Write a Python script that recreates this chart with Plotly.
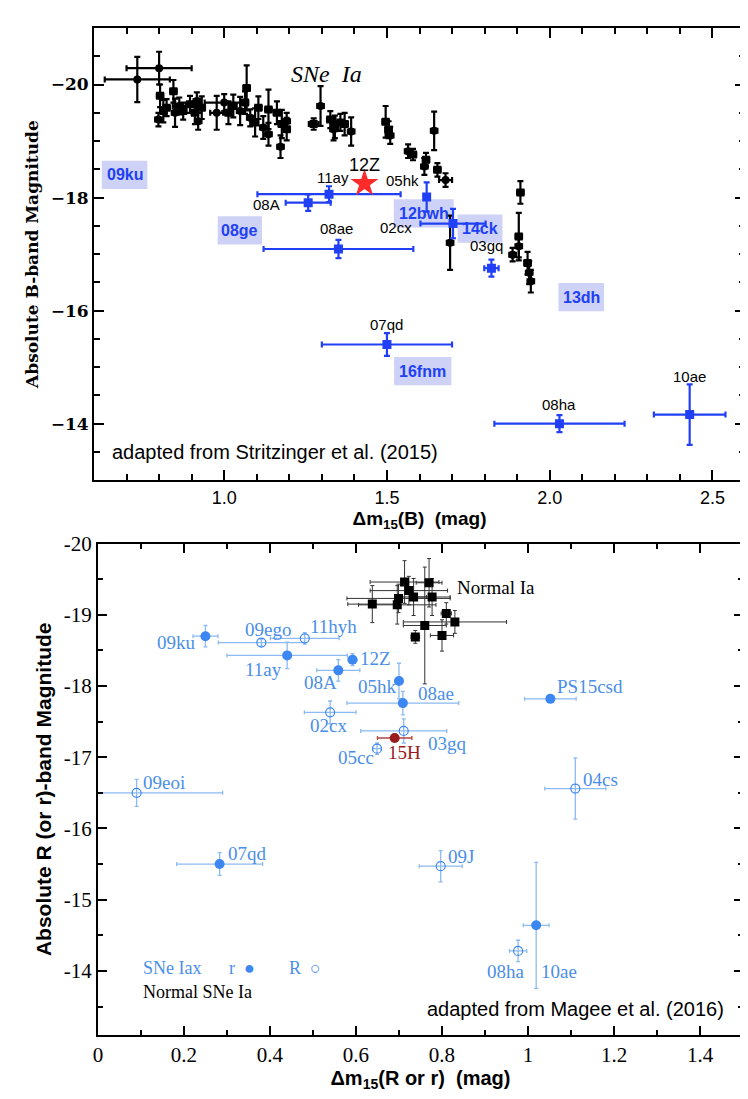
import plotly.graph_objects as go

# ---------------- top panel: Stritzinger et al. (2015), B band ----------------
ia_x = [0.733, 0.800, 0.803, 0.813, 0.798, 0.823, 0.844, 0.849, 0.874, 0.895,
        0.910, 0.920, 0.931, 0.916, 0.862, 0.977, 1.013, 1.028, 1.049, 1.069,
        1.064, 1.080, 1.105, 1.095, 1.120, 1.136, 1.136, 1.162, 1.177, 1.173,
        1.192, 1.192, 1.000, 1.275, 1.296, 1.326, 1.336, 1.357, 1.340, 1.390,
        1.370, 1.496, 1.510, 1.505, 1.565, 1.580, 1.645, 1.620, 1.615, 1.655,
        1.680, 1.694, 1.910, 1.905, 1.905, 1.886, 1.932, 1.937, 1.942]
ia_y = [-20.09, -20.29, -19.80, -19.53, -19.38, -19.59, -19.88, -19.50, -19.53, -19.65,
        -19.50, -19.35, -19.59, -19.71, -19.62, -19.50, -19.50, -19.62, -19.53, -19.94,
        -19.68, -19.41, -19.59, -19.33, -19.24, -19.56, -19.12, -19.50, -19.30, -18.90,
        -19.21, -19.35, -19.68, -19.30, -19.62, -19.38, -19.21, -19.33, -19.25, -19.17,
        -19.30, -19.34, -19.10, -19.20, -18.82, -18.76, -19.18, -18.67, -18.55, -18.49,
        -18.31, -17.20, -18.09, -17.31, -17.14, -16.99, -16.84, -16.67, -16.52]
ia_xerr = [0.10, 0.10, 0.01, 0.01, 0.01, 0.01, 0.01, 0.01, 0.01, 0.01,
           0.01, 0.01, 0.01, 0.01, 0.02, 0.02, 0.01, 0.01, 0.01, 0.01,
           0.01, 0.01, 0.01, 0.01, 0.01, 0.01, 0.01, 0.01, 0.01, 0.01,
           0.01, 0.01, 0.06, 0.015, 0.01, 0.01, 0.01, 0.01, 0.01, 0.01,
           0.01, 0.01, 0.01, 0.01, 0.01, 0.01, 0.01, 0.01, 0.01, 0.01,
           0.02, 0.01, 0.01, 0.01, 0.01, 0.01, 0.01, 0.01, 0.01]
ia_yerr = [0.40, 0.29, 0.20, 0.20, 0.12, 0.15, 0.20, 0.25, 0.15, 0.15,
           0.20, 0.15, 0.20, 0.15, 0.15, 0.30, 0.20, 0.20, 0.25, 0.40,
           0.20, 0.15, 0.20, 0.25, 0.20, 0.35, 0.20, 0.20, 0.25, 0.20,
           0.20, 0.15, 0.15, 0.10, 0.35, 0.15, 0.20, 0.15, 0.20, 0.25,
           0.20, 0.28, 0.15, 0.15, 0.12, 0.10, 0.34, 0.12, 0.15, 0.12,
           0.12, 0.48, 0.20, 0.42, 0.20, 0.12, 0.20, 0.20, 0.20]
ia_sym = ["circle", "circle", "square", "square", "circle", "square", "square", "circle", "square", "square",
          "square", "circle", "square", "circle", "circle", "circle", "square", "square", "circle", "square",
          "square", "circle", "square", "square", "circle", "square", "circle", "square", "square", "circle",
          "square", "circle", "circle", "square", "circle", "square", "circle", "square", "square", "circle",
          "square", "square", "circle", "square", "circle", "square", "circle", "square", "circle", "square",
          "circle", "circle", "square", "square", "circle", "circle", "square", "circle", "circle"]

iax_b_names = ["11ay", "08A", "08ae", "05hk", "02cx", "03gq", "07qd", "08ha", "10ae"]
iax_b_x = [1.322, 1.258, 1.351, 1.622, 1.703, 1.821, 1.50, 2.03, 2.43]
iax_b_y = [-18.06, -17.91, -17.09, -18.01, -17.54, -16.75, -15.40, -14.00, -14.16]
iax_b_xerr = [0.22, 0.069, 0.23, 0.0, 0.10, 0.022, 0.20, 0.20, 0.11]
iax_b_yerr = [0.14, 0.145, 0.16, 0.26, 0.26, 0.15, 0.20, 0.15, 0.535]
iax_b_lab_x = [1.335, 1.13, 1.346, 1.548, 1.528, 1.806, 1.50, 2.03, 2.43]
iax_b_lab_y = [-18.36, -17.87, -17.46, -18.30, -17.47, -17.15, -15.75, -14.34, -14.84]

sn12z_x = [1.431]
sn12z_y = [-18.25]

boxed_names = ["09ku", "08ge", "12bwh", "14ck", "13dh", "16fnm"]
boxed_x = [0.694, 1.048, 1.613, 1.786, 2.097, 1.61]
boxed_y = [-18.40, -17.42, -17.72, -17.45, -16.24, -14.93]

# ---------------- bottom panel: Magee et al. (2016), R / r band ----------------
r_names = ["09ku", "11ay", "12Z", "08A", "05hk", "08ae", "07qd", "10ae", "PS15csd"]
r_x = [0.25, 0.44, 0.592, 0.559, 0.70, 0.709, 0.283, 1.019, 1.052]
r_y = [-18.70, -18.43, -18.37, -18.22, -18.07, -17.76, -15.50, -14.64, -17.82]
r_xerr = [0.029, 0.14, 0.01, 0.05, 0.005, 0.13, 0.10, 0.03, 0.06]
r_yerr = [0.15, 0.185, 0.085, 0.15, 0.25, 0.165, 0.16, 0.885, 0.02]

bigR_names = ["09ego", "11hyh", "02cx", "03gq", "05cc", "09eoi", "04cs", "09J", "08ha"]
bigR_x = [0.38, 0.481, 0.54, 0.711, 0.649, 0.09, 1.11, 0.797, 0.977]
bigR_y = [-18.61, -18.67, -17.63, -17.37, -17.12, -16.50, -16.56, -15.47, -14.28]
bigR_xerr = [0.10, 0.08, 0.06, 0.10, 0.01, 0.20, 0.071, 0.05, 0.02]
bigR_yerr = [0.05, 0.08, 0.16, 0.17, 0.08, 0.19, 0.43, 0.22, 0.15]

sn15h_x = [0.69]
sn15h_y = [-17.27]
sn15h_xerr = [0.04]
sn15h_yerr = [0.05]

norm_x = [0.713, 0.723, 0.699, 0.696, 0.734, 0.638, 0.770, 0.777, 0.810, 0.830, 0.760, 0.738, 0.800]
norm_y = [-19.46, -19.34, -19.23, -19.14, -19.25, -19.15, -19.45, -19.25, -19.02, -18.90, -18.85, -18.69, -18.71]
norm_xerr = [0.08, 0.09, 0.12, 0.09, 0.03, 0.057, 0.03, 0.042, 0.012, 0.12, 0.05, 0.01, 0.027]
norm_yerr = [0.30, 0.20, 0.20, 0.27, 0.26, 0.26, 0.34, 0.26, 0.15, 0.16, 0.82, 0.09, 0.22]

# label placement in the bottom panel: (text, x, y, anchor)
rlabels = [
    ("09ku", 0.233, -18.61, "right"), ("09ego", 0.395, -18.79, "center"),
    ("11hyh", 0.548, -18.84, "center"), ("11ay", 0.385, -18.23, "center"),
    ("12Z", 0.604, -18.39, "left"), ("08A", 0.518, -18.05, "center"),
    ("05hk", 0.650, -17.99, "center"), ("08ae", 0.740, -17.90, "left"),
    ("02cx", 0.535, -17.44, "center"), ("03gq", 0.764, -17.20, "left"),
    ("05cc", 0.600, -17.00, "center"), ("09eoi", 0.100, -16.64, "left"),
    ("04cs", 1.123, -16.69, "left"), ("PS15csd", 1.063, -17.99, "left"),
    ("07qd", 0.298, -15.65, "left"), ("09J", 0.810, -15.61, "left"),
    ("08ha", 0.997, -13.99, "right"), ("10ae", 1.026, -13.99, "left"),
]

# half widths (data units) of the lavender boxes behind the blue names
box_half_w = [0.070, 0.068, 0.092, 0.069, 0.070, 0.088]
BOX_HALF_H = 0.25

BLUE_TOP = "#2140f5"
BOX_BG = "#cdd2f6"
LBLUE = "#3d87f2"
LBLUE_ERR = "#8cbaf2"
LBLUE_TXT = "#4a8ee8"
DARKRED = "#9b1c1c"
SANS = "Liberation Sans"
SERIF = "Liberation Serif"

fig = go.Figure()

# top panel traces
fig.add_trace(go.Scatter(
    x=ia_x, y=ia_y, mode="markers", xaxis="x", yaxis="y",
    marker=dict(color="black", size=8, symbol=ia_sym),
    error_x=dict(type="data", array=ia_xerr, color="black", thickness=2.2, width=3),
    error_y=dict(type="data", array=ia_yerr, color="black", thickness=2.2, width=3),
    showlegend=False,
))
fig.add_trace(go.Scatter(
    x=iax_b_x, y=iax_b_y, mode="markers", xaxis="x", yaxis="y",
    marker=dict(color=BLUE_TOP, size=9, symbol="square"),
    error_x=dict(type="data", array=iax_b_xerr, color=BLUE_TOP, thickness=2.2, width=3),
    error_y=dict(type="data", array=iax_b_yerr, color=BLUE_TOP, thickness=2.2, width=3),
    showlegend=False,
))
fig.add_trace(go.Scatter(
    x=sn12z_x, y=sn12z_y, mode="markers", xaxis="x", yaxis="y",
    marker=dict(color="#ff2a2a", size=21, symbol="star", line=dict(width=0)),
    showlegend=False,
))

# bottom panel traces
fig.add_trace(go.Scatter(
    x=norm_x, y=norm_y, mode="markers", xaxis="x2", yaxis="y2",
    marker=dict(color="black", size=9, symbol="square"),
    error_x=dict(type="data", array=norm_xerr, color="#333333", thickness=1, width=2),
    error_y=dict(type="data", array=norm_yerr, color="#333333", thickness=1, width=2),
    showlegend=False,
))
fig.add_trace(go.Scatter(
    x=bigR_x, y=bigR_y, mode="markers", xaxis="x2", yaxis="y2",
    marker=dict(color=LBLUE, size=9, symbol="circle-open", line=dict(color=LBLUE, width=1.2)),
    error_x=dict(type="data", array=bigR_xerr, color=LBLUE_ERR, thickness=1.3, width=2),
    error_y=dict(type="data", array=bigR_yerr, color=LBLUE_ERR, thickness=1.3, width=2),
    showlegend=False,
))
fig.add_trace(go.Scatter(
    x=r_x, y=r_y, mode="markers", xaxis="x2", yaxis="y2",
    marker=dict(color=LBLUE, size=10, symbol="circle"),
    error_x=dict(type="data", array=r_xerr, color=LBLUE_ERR, thickness=1.3, width=2),
    error_y=dict(type="data", array=r_yerr, color=LBLUE_ERR, thickness=1.3, width=2),
    showlegend=False,
))
fig.add_trace(go.Scatter(
    x=sn15h_x, y=sn15h_y, mode="markers", xaxis="x2", yaxis="y2",
    marker=dict(color=DARKRED, size=10, symbol="circle"),
    error_x=dict(type="data", array=sn15h_xerr, color="#b54545", thickness=1.3, width=2),
    error_y=dict(type="data", array=sn15h_yerr, color="#b54545", thickness=1.3, width=2),
    showlegend=False,
))

shapes = []
ann = []
for name, bx, by, hw in zip(boxed_names, boxed_x, boxed_y, box_half_w):
    shapes.append(dict(type="rect", xref="x", yref="y", layer="below",
                       x0=bx - hw, x1=bx + hw, y0=by - BOX_HALF_H, y1=by + BOX_HALF_H,
                       fillcolor=BOX_BG, line=dict(width=0)))
    ann.append(dict(x=bx, y=by, xref="x", yref="y", text=name, showarrow=False,
                    font=dict(family=SANS, size=16, color=BLUE_TOP, weight="bold")))
for name, lx, ly in zip(iax_b_names, iax_b_lab_x, iax_b_lab_y):
    ann.append(dict(x=lx, y=ly, xref="x", yref="y", text=name, showarrow=False,
                    font=dict(family=SANS, size=15, color="black")))
ann.append(dict(x=1.431, y=-18.58, xref="x", yref="y", text="12Z", showarrow=False,
                font=dict(family=SANS, size=18, color="black")))
ann.append(dict(x=1.315, y=-20.18, xref="x", yref="y", text="<i>SNe  Ia</i>",
                showarrow=False, font=dict(family=SERIF, size=24, color="black")))
ann.append(dict(x=0.65, y=-13.5, xref="x", yref="y", xanchor="left",
                text="adapted from Stritzinger et al. (2015)", showarrow=False,
                font=dict(family=SANS, size=20, color="black")))

for name, lx, ly, anc in rlabels:
    ann.append(dict(x=lx, y=ly, xref="x2", yref="y2", text=name, xanchor=anc,
                    showarrow=False, font=dict(family=SERIF, size=19, color=LBLUE_TXT)))
ann.append(dict(x=0.712, y=-17.07, xref="x2", yref="y2", text="15H", showarrow=False,
                font=dict(family=SERIF, size=19, color=DARKRED)))
ann.append(dict(x=0.83, y=-19.39, xref="x2", yref="y2", text="Normal Ia", xanchor="left",
                showarrow=False, font=dict(family=SERIF, size=19, color="black")))
ann.append(dict(x=0.10, y=-14.04, xref="x2", yref="y2", text="SNe Iax", xanchor="left",
                showarrow=False, font=dict(family=SERIF, size=18, color=LBLUE_TXT)))
ann.append(dict(x=0.30, y=-14.04, xref="x2", yref="y2", text="r  <span style='color:%s'>●</span>" % LBLUE,
                xanchor="left", showarrow=False, font=dict(family=SERIF, size=18, color=LBLUE_TXT)))
ann.append(dict(x=0.44, y=-14.04, xref="x2", yref="y2", text="R  ○", xanchor="left",
                showarrow=False, font=dict(family=SERIF, size=18, color=LBLUE_TXT)))
ann.append(dict(x=0.10, y=-13.70, xref="x2", yref="y2", text="Normal SNe Ia", xanchor="left",
                showarrow=False, font=dict(family=SERIF, size=18, color="black")))
ann.append(dict(x=1.46, y=-13.47, xref="x2", yref="y2", text="adapted from Magee et al. (2016)",
                xanchor="right", showarrow=False, font=dict(family=SANS, size=20, color="black")))

frame = dict(showline=True, linewidth=2, linecolor="black", mirror="ticks", ticks="inside",
             showgrid=False, zeroline=False, tickcolor="black", tickwidth=1.5)

fig.update_layout(
    width=748, height=1099,
    margin=dict(l=86, r=11, t=8, b=72),
    paper_bgcolor="white", plot_bgcolor="white",
    annotations=ann, shapes=shapes,
    xaxis=dict(frame, domain=[0, 1], anchor="y", range=[0.6, 2.6],
               tickvals=[1.0, 1.5, 2.0, 2.5], ticktext=["1.0", "1.5", "2.0", "2.5"], ticklen=10,
               minor=dict(dtick=0.1, tick0=0, ticklen=6, ticks="inside", tickcolor="black"),
               tickfont=dict(family=SANS, size=18, color="black"),
               title=dict(text="<b>Δm<sub>15</sub>(B)  (mag)</b>", standoff=2,
                          font=dict(family=SANS, size=19, color="black"))),
    yaxis=dict(frame, domain=[0.551, 1], anchor="x", range=[-13, -21],
               tickvals=[-20, -18, -16, -14], ticklen=10,
               minor=dict(dtick=0.5, tick0=0, ticklen=6, ticks="inside", tickcolor="black"),
               tickfont=dict(family="DejaVu Serif", size=17, color="black", weight="bold"),
               title=dict(text="<b>Absolute B-band Magnitude</b>", standoff=8,
                          font=dict(family="DejaVu Serif", size=17, color="black"))),
    xaxis2=dict(frame, domain=[0.006, 0.997], anchor="y2", range=[0, 1.5],
                tickvals=[0, 0.2, 0.4, 0.6, 0.8, 1.0, 1.2, 1.4],
                ticktext=["0", "0.2", "0.4", "0.6", "0.8", "1", "1.2", "1.4"], ticklen=9,
                minor=dict(dtick=0.1, tick0=0, ticklen=5, ticks="inside", tickcolor="black"),
                tickfont=dict(family=SERIF, size=21, color="black"),
                title=dict(text="<b>Δm<sub>15</sub>(R or r)  (mag)</b>", standoff=0,
                           font=dict(family=SANS, size=20, color="black"))),
    yaxis2=dict(frame, domain=[0, 0.488], anchor="x2", range=[-13.1, -20],
                tickvals=[-20, -19, -18, -17, -16, -15, -14],
                ticktext=["-20", "-19", "-18", "-17", "-16", "-15", "-14"], ticklen=9,
                minor=dict(dtick=0.5, tick0=0, ticklen=5, ticks="inside", tickcolor="black"),
                tickfont=dict(family=SERIF, size=21, color="black"),
                title=dict(text="<b>Absolute R (or r)-band Magnitude</b>", standoff=6,
                           font=dict(family=SANS, size=21, color="black"))),
)

fig.write_html("out.html")
